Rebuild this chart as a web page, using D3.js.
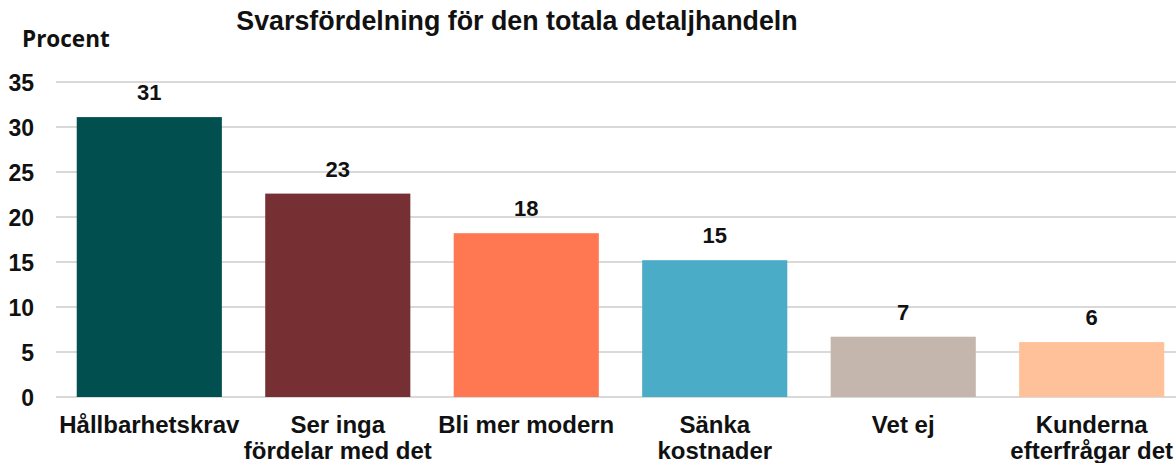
<!DOCTYPE html>
<html>
<head>
<meta charset="utf-8">
<script src="https://cdn.jsdelivr.net/npm/d3@7"></script>
<style>
  body { margin: 0; background: #fff; }
  text { font-family: "Liberation Sans", Arial, sans-serif; font-weight: bold; fill: #111; }
</style>
</head>
<body>
<svg id="chart" width="1176" height="463"></svg>
<script>
'use strict';

var title = "Svarsfördelning för den totala detaljhandeln";
var yLabel = "Procent";
var categories = [
    ["Hållbarhetskrav"],
    ["Ser inga", "fördelar med det"],
    ["Bli mer modern"],
    ["Sänka", "kostnader"],
    ["Vet ej"],
    ["Kunderna", "efterfrågar det"]
];
var values = [31.1, 22.6, 18.2, 15.2, 6.7, 6.1];
var colors = ["#024f4f", "#763033", "#ff7852", "#4aacc6", "#c4b6ad", "#ffc19a"];
var yTicks = [0, 5, 10, 15, 20, 25, 30, 35];

var svg = d3.select("#chart");

var x = d3.scaleBand()
    .domain(d3.range(values.length))
    .range([56, 1185])
    .paddingInner(0.23)
    .paddingOuter(0.11);

var y = d3.scaleLinear()
    .domain([0, 35])
    .range([397, 82]);

// gridlines
svg.append("g")
    .selectAll("line")
    .data(yTicks)
    .enter()
    .append("line")
    .attr("x1", 56)
    .attr("x2", 1176)
    .attr("y1", function(d) { return y(d); })
    .attr("y2", function(d) { return y(d); })
    .attr("stroke", "#d9d9d9")
    .attr("stroke-width", 2);

// y axis labels
var yAxis = d3.axisLeft(y)
    .tickValues(yTicks)
    .tickSize(0)
    .tickPadding(0);

var yg = svg.append("g")
    .attr("transform", "translate(34,0)")
    .call(yAxis);
yg.select(".domain").remove();
yg.selectAll("text")
    .attr("dy", "0.36em")
    .style("font-size", "23px")
    .style("font-family", "Liberation Sans, Arial, sans-serif")
    .style("font-weight", "bold")
    .attr("fill", "#111");

// bars
svg.append("g")
    .selectAll("rect")
    .data(values)
    .enter()
    .append("rect")
    .attr("x", function(d, i) { return x(i); })
    .attr("width", x.bandwidth())
    .attr("y", function(d) { return y(d); })
    .attr("height", function(d) { return y(0) - y(d); })
    .attr("fill", function(d, i) { return colors[i]; });

// value labels
svg.append("g")
    .selectAll("text")
    .data(values)
    .enter()
    .append("text")
    .attr("x", function(d, i) { return x(i) + x.bandwidth() / 2; })
    .attr("y", function(d) { return y(d) - 17; })
    .attr("text-anchor", "middle")
    .style("font-size", "22px")
    .text(function(d) { return Math.round(d); });

// category labels
var cat = svg.append("g")
    .selectAll("text")
    .data(categories)
    .enter()
    .append("text")
    .attr("text-anchor", "middle")
    .style("font-size", "24px");

cat.selectAll("tspan")
    .data(function(d, i) { return d.map(function(line) { return { line: line, i: i }; }); })
    .enter()
    .append("tspan")
    .attr("x", function(d) { return x(d.i) + x.bandwidth() / 2; })
    .attr("y", function(d, j) { return 433 + j * 26; })
    .text(function(d) { return d.line; });

// title and y label
svg.append("text")
    .attr("x", 517)
    .attr("y", 30)
    .attr("text-anchor", "middle")
    .style("font-size", "26.8px")
    .text(title);

svg.append("text")
    .attr("x", 22)
    .attr("y", 47)
    .style("font-family", "'Open Sans', sans-serif")
    .style("font-size", "22.5px")
    .text(yLabel);
</script>
</body>
</html>
